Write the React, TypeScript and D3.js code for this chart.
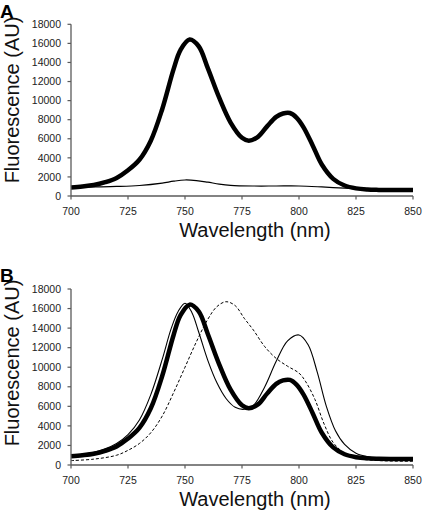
import React from "react";
import * as d3 from "d3";

// ---------- data ----------
const xTicks = [700, 725, 750, 775, 800, 825, 850];
const yTicks = [0, 2000, 4000, 6000, 8000, 10000, 12000, 14000, 16000, 18000];

// thick curve (panels A and B)
const thickWl = [700, 705, 710, 715, 720, 725, 730, 735, 740, 745, 748, 752, 756, 760, 765, 770, 775, 778, 782, 786, 790, 793, 796, 799, 802, 806, 810, 815, 820, 825, 830, 835, 840, 850];
const thickVal = [900, 1000, 1150, 1450, 1900, 2700, 3800, 5800, 9100, 13300, 15300, 16400, 15700, 13400, 10300, 7700, 6100, 5800, 6200, 7300, 8300, 8650, 8700, 8200, 7200, 5300, 3300, 1800, 1100, 800, 680, 640, 620, 620];

// thin curve panel A
const thinAWl = [700, 710, 720, 730, 740, 745, 750, 755, 760, 765, 770, 780, 790, 800, 810, 820, 830, 840, 850];
const thinAVal = [900, 950, 1000, 1100, 1350, 1550, 1680, 1620, 1450, 1250, 1120, 1050, 1050, 1050, 950, 820, 720, 660, 620];

// thin solid curve panel B
const thinBWl = [700, 705, 710, 715, 720, 725, 730, 735, 740, 744, 747, 750, 753, 756, 760, 764, 768, 772, 776, 780, 785, 790, 795, 800, 804, 808, 812, 816, 820, 825, 830, 835, 840, 850];
const thinBVal = [1000, 1100, 1300, 1650, 2200, 3100, 4600, 7200, 10800, 14000, 15700, 16550, 15600, 13600, 10700, 8400, 6800, 5900, 5700, 6100, 8000, 10600, 12700, 13300, 12300, 9500, 6000, 3500, 2100, 1200, 850, 720, 680, 650];

// dashed curve panel B
const dashWl = [700, 710, 720, 725, 730, 735, 740, 745, 750, 755, 760, 764, 768, 772, 776, 780, 785, 790, 795, 800, 803, 807, 811, 815, 820, 825, 835, 850];
const dashVal = [450, 600, 1000, 1500, 2200, 3300, 5000, 7400, 10000, 12600, 14900, 16200, 16700, 16300, 15000, 13800, 12100, 10900, 10100, 9400, 8500, 6700, 4200, 2300, 1200, 700, 450, 380];

const toPts = (wl: number[], v: number[]) => wl.map((w, i) => [w, v[i]] as [number, number]);

const FONT = "'Liberation Sans', Arial, sans-serif";

type Series = { pts: [number, number][]; width: number; dash?: string };

function Panel({ top, bottom, label, series, labelY, titleY, yTitleY }: { top: number; bottom: number; label: string; series: Series[]; labelY: number; titleY: number; yTitleY: number }) {
  const x = d3.scaleLinear().domain([700, 850]).range([71, 413]);
  const y = d3.scaleLinear().domain([0, 18000]).range([bottom, top]);
  const line = d3
    .line<[number, number]>()
    .x((d) => x(d[0]))
    .y((d) => y(d[1]))
    .curve(d3.curveCatmullRom.alpha(0.5));
  const axisColor = "#5a5a5a";
  return (
    <g>
      <text x={0} y={labelY} fontFamily={FONT} fontWeight="bold" fontSize={19} fill="#000">
        {label}
      </text>
      {series.map((s, i) => (
        <path key={i} d={line(s.pts) || ""} fill="none" stroke="#000" strokeWidth={s.width} strokeDasharray={s.dash} strokeLinejoin="round" />
      ))}
      {/* y axis */}
      <line x1={x(700)} x2={x(700)} y1={y(18000)} y2={y(0)} stroke={axisColor} strokeWidth={1.3} />
      {yTicks.map((t) => (
        <g key={t}>
          <line x1={x(700) - 3.5} x2={x(700)} y1={y(t)} y2={y(t)} stroke={axisColor} strokeWidth={1.2} />
          <text x={61} y={y(t)} dy="0.35em" textAnchor="end" fontFamily={FONT} fontSize={10.5} fill="#222">
            {t}
          </text>
        </g>
      ))}
      {/* x axis */}
      <line x1={x(700)} x2={x(850)} y1={y(0)} y2={y(0)} stroke={axisColor} strokeWidth={1.3} />
      {xTicks.map((t) => (
        <g key={t}>
          <line x1={x(t)} x2={x(t)} y1={y(0)} y2={y(0) + 3.5} stroke={axisColor} strokeWidth={1.2} />
          <text x={x(t)} y={y(0) + 18.5} textAnchor="middle" fontFamily={FONT} fontSize={10.5} fill="#222">
            {t}
          </text>
        </g>
      ))}
      <text x={255} y={titleY} textAnchor="middle" fontFamily={FONT} fontSize={20} fill="#111">
        Wavelength (nm)
      </text>
      <text transform={`translate(18.5,${yTitleY}) rotate(-90)`} textAnchor="middle" fontFamily={FONT} fontSize={20} fill="#111">
        Fluorescence (AU)
      </text>
    </g>
  );
}

export default function App() {
  const thick = toPts(thickWl, thickVal);
  return (
    <svg width={425} height={515} style={{ position: "absolute", left: 0, top: 0, background: "#fff" }}>
      <rect width={425} height={515} fill="#fff" />
      <Panel
        top={24.3}
        bottom={196}
        label="A"
        labelY={18}
        titleY={236.5}
        yTitleY={100}
        series={[
          { pts: toPts(thinAWl, thinAVal), width: 1.2 },
          { pts: thick, width: 4.5 },
        ]}
      />
      <Panel
        top={289}
        bottom={465}
        label="B"
        labelY={282}
        titleY={505.5}
        yTitleY={363}
        series={[
          { pts: toPts(dashWl, dashVal), width: 1, dash: "3,2" },
          { pts: toPts(thinBWl, thinBVal), width: 1.1 },
          { pts: thick, width: 4.5 },
        ]}
      />
    </svg>
  );
}
